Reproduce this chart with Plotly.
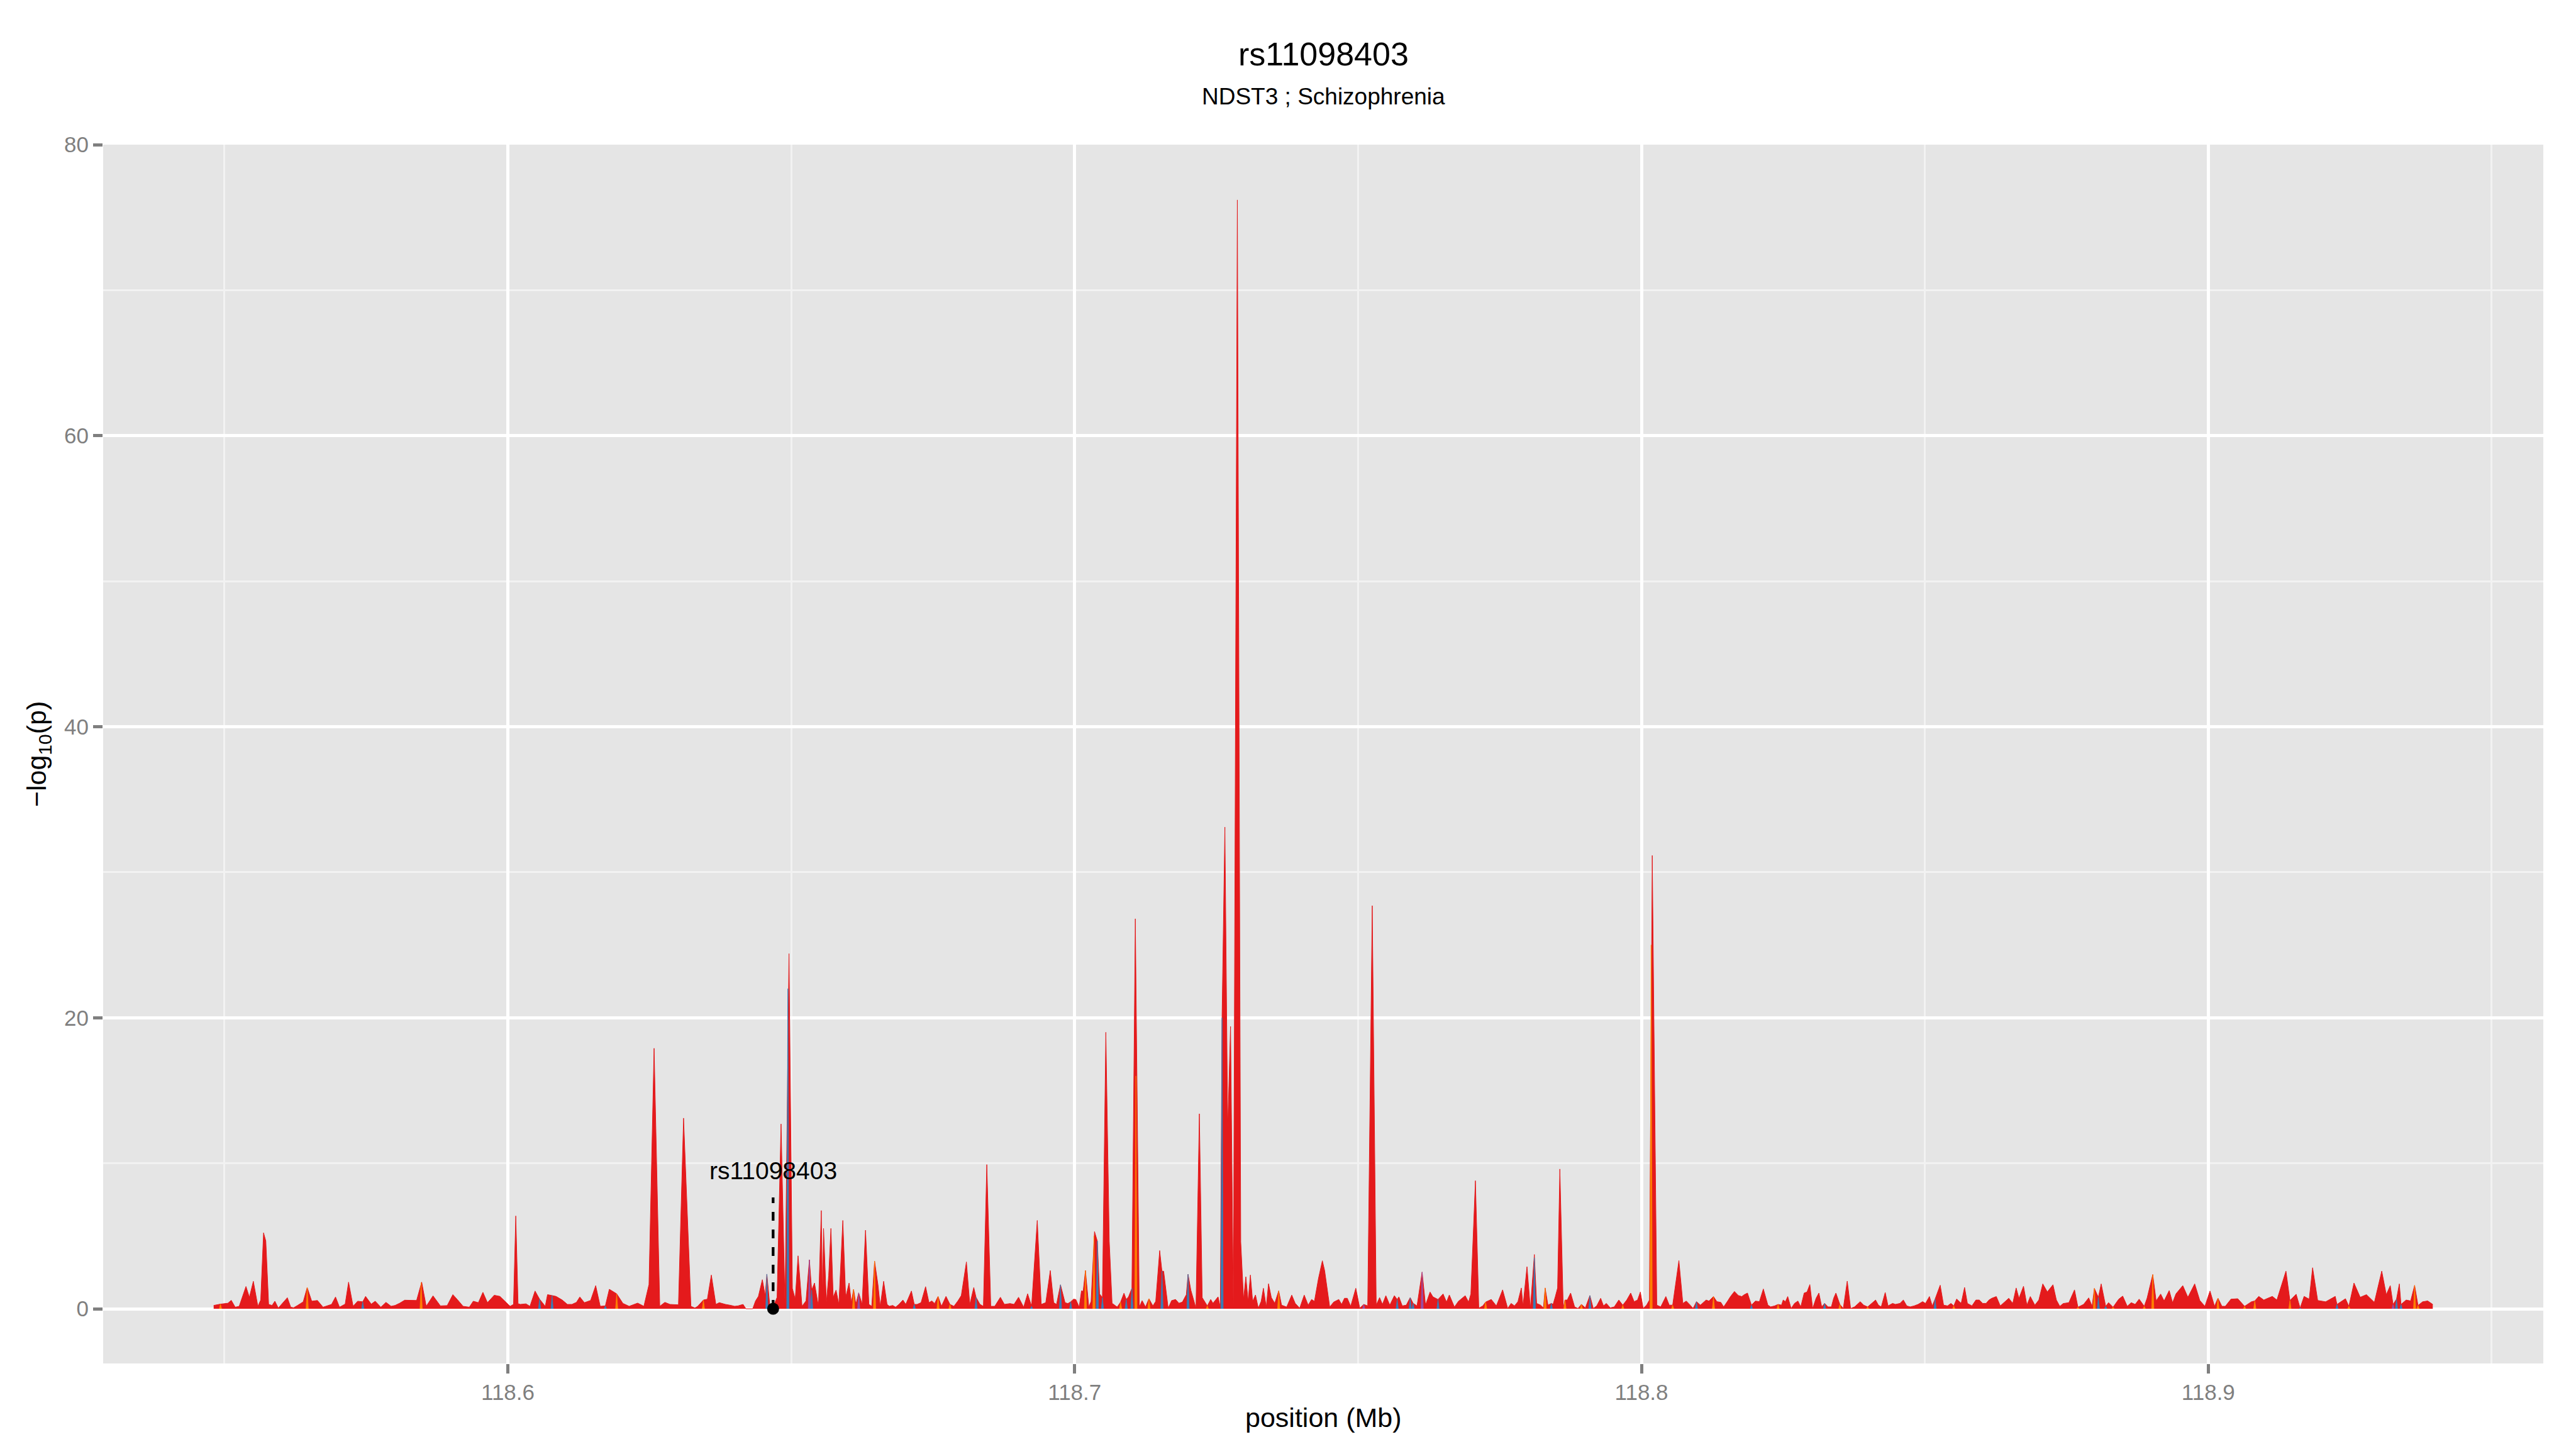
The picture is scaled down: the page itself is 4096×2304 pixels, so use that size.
import plotly.graph_objects as go

# ---------------- data (position in Mb, -log10 p) ----------------
title_text = "rs11098403"
subtitle_text = "NDST3 ; Schizophrenia"
lead_snp = "rs11098403"
lead_pos = 118.6468
lead_line_top = 7.65
lead_label_y = 9.48

x_ticks = [118.6, 118.7, 118.8, 118.9]
x_tick_labels = ["118.6", "118.7", "118.8", "118.9"]
x_minor = [118.55, 118.65, 118.75, 118.85, 118.95]
y_ticks = [0, 20, 40, 60, 80]
y_tick_labels = ["0", "20", "40", "60", "80"]
y_minor = [10, 30, 50, 70]

red_points = [
(118.5481,0.23),(118.5493,0.32),(118.5506,0.38),(118.5512,0.58),(118.5519,0.11),(118.5526,0.17),
(118.5538,1.53),(118.5544,0.79),(118.5551,1.89),(118.5559,0.17),(118.5564,0.6),(118.5569,5.22),(118.5573,4.66),(118.5578,0.30),
(118.5584,0.23),(118.5589,0.52),(118.5595,0.05),(118.5602,0.36),(118.5611,0.76),(118.5617,0.11),(118.5622,0.07),(118.5629,0.23),
(118.5639,0.48),(118.5646,1.46),(118.5654,0.52),(118.5664,0.57),(118.5674,0.11),(118.5689,0.30),(118.5696,0.81),(118.5703,0.11),
(118.5713,0.32),(118.5719,1.83),(118.5727,0.17),(118.5735,0.52),(118.5744,0.48),(118.5749,0.85),(118.5759,0.32),(118.5766,0.52),
(118.5776,0.11),(118.5785,0.44),(118.5794,0.17),(118.5801,0.23),(118.5809,0.38),(118.5818,0.59),(118.5830,0.57),(118.5839,0.57),
(118.5848,1.83),(118.5856,0.17),(118.5868,0.89),(118.5881,0.20),(118.5893,0.22),(118.5903,0.97),(118.5911,0.63),(118.5921,0.17),
(118.5932,0.11),(118.5939,0.52),(118.5948,0.42),(118.5956,1.13),(118.5964,0.42),(118.5976,0.93),(118.5986,0.85),(118.5995,0.52),
(118.6004,0.17),(118.6010,0.30),(118.6014,6.38),(118.6018,0.35),(118.6022,0.30),(118.6032,0.34),(118.6039,0.17),(118.6048,1.22),
(118.6056,0.66),(118.6066,0.17),(118.6070,0.97),(118.6078,0.91),(118.6085,0.85),(118.6096,0.60),(118.6105,0.30),(118.6113,0.30),
(118.6121,0.44),(118.6127,0.81),(118.6135,0.42),(118.6146,0.57),(118.6155,1.59),(118.6163,0.17),(118.6172,0.20),(118.6179,1.34),
(118.6192,1.03),(118.6203,0.37),(118.6214,0.17),(118.6229,0.39),(118.6240,0.17),(118.6249,1.67),(118.6258,17.9),(118.6268,0.17),
(118.6277,0.44),(118.6286,0.30),(118.6294,0.27),(118.6301,0.27),(118.6310,13.1),(118.6323,0.17),(118.6330,0.05),
(118.6335,0.17),(118.6345,0.60),(118.6352,0.66),(118.6359,2.32),(118.6367,0.30),(118.6373,0.42),(118.6384,0.30),(118.6394,0.23),
(118.6400,0.17),(118.6406,0.20),(118.6415,0.30),(118.6420,0.0),(118.6432,0.0),(118.6437,0.54),(118.6442,0.85),(118.6449,2.0),
(118.6454,0.91),(118.6457,2.38),(118.6462,0.30),(118.6468,0.10),(118.6475,0.79),(118.6482,12.7),(118.6489,0.17),(118.6496,24.4),
(118.6502,1.40),(118.6507,0.66),(118.6512,3.64),(118.6519,0.17),(118.6526,0.54),(118.6532,3.37),(118.6536,1.28),(118.6541,1.77),
(118.6548,0.17),(118.6553,6.75),(118.6555,0.79),(118.6557,5.52),(118.6562,0.42),(118.6566,2.26),(118.6570,5.52),(118.6574,0.79),
(118.6579,1.28),(118.6584,0.30),(118.6591,6.07),(118.6596,0.79),(118.6602,1.77),(118.6606,0.42),(118.6610,1.34),(118.6614,0.30),
(118.6619,1.09),(118.6625,0.30),(118.6631,5.40),(118.6637,0.30),(118.6642,0.17),(118.6647,3.27),(118.6653,1.65),(118.6657,0.17),
(118.6663,1.89),(118.6669,0.30),(118.6673,0.17),(118.6679,0.23),(118.6684,0.11),(118.6690,0.30),(118.6697,0.60),(118.6702,0.30),
(118.6712,1.22),(118.6717,0.30),(118.6722,0.30),(118.6729,0.42),(118.6737,1.52),(118.6743,0.42),(118.6748,0.54),(118.6753,0.36),
(118.6759,0.85),(118.6765,0.17),(118.6773,0.85),(118.6780,0.30),(118.6787,0.17),(118.6794,0.54),(118.6800,0.91),(118.6809,3.22),
(118.6815,0.30),(118.6822,1.46),(118.6826,0.79),(118.6833,0.30),(118.6839,0.17),(118.6845,9.91),(118.6852,0.17),(118.6859,0.17),
(118.6869,0.79),(118.6876,0.30),(118.6886,0.36),(118.6893,0.30),(118.6901,0.79),(118.6910,0.11),(118.6917,1.03),(118.6924,0.17),
(118.6934,6.07),(118.6941,0.30),(118.6949,0.42),(118.6957,2.63),(118.6963,0.42),(118.6968,0.30),(118.6975,1.65),(118.6983,0.42),
(118.6988,0.36),(118.6993,0.48),(118.6998,0.66),
(118.7002,0.64),(118.7008,0.12),(118.7012,1.23),(118.7015,1.20),(118.7019,2.63),(118.7025,0.12),(118.7029,0.51),(118.7035,5.30),
(118.7040,4.65),(118.7044,1.02),(118.7049,0.77),(118.7055,19.0),(118.7061,4.65),(118.7066,0.38),(118.7075,0.12),(118.7081,0.46),
(118.7087,1.07),(118.7091,0.64),(118.7095,0.82),(118.7101,1.41),(118.7107,26.8),(118.7114,0.12),(118.7119,0.56),(118.7125,0.12),
(118.7131,0.69),(118.7138,0.20),(118.7143,0.51),(118.7150,4.00),(118.7154,2.58),(118.7157,2.58),(118.7165,0.04),(118.7171,0.56),
(118.7178,0.64),(118.7184,0.38),(118.7190,0.46),(118.7197,0.97),(118.7200,2.37),(118.7205,1.28),(118.7214,0.04),(118.7220,13.4),
(118.7225,0.77),(118.7234,0.20),(118.7240,0.64),(118.7244,0.38),(118.7253,0.82),(118.7257,0.10),(118.7260,20.0),(118.7265,33.1),
(118.7270,12.4),(118.7275,19.4),(118.7280,0.04),(118.7287,76.2),(118.7293,4.6),(118.7298,0.64),(118.7302,2.20),(118.7306,0.51),
(118.7310,2.32),(118.7314,0.51),(118.7319,0.95),(118.7324,0.04),(118.7329,0.51),(118.7333,1.41),(118.7338,0.12),(118.7342,1.72),
(118.7347,0.77),(118.7353,0.38),(118.7360,1.23),(118.7365,0.25),(118.7374,0.12),(118.7383,0.94),(118.7389,0.38),(118.7397,0.04),
(118.7405,0.94),(118.7412,0.25),(118.7418,0.64),(118.7423,0.51),(118.7430,2.06),(118.7437,3.30),(118.7441,2.63),(118.7450,0.12),
(118.7457,0.46),(118.7466,0.64),(118.7471,0.30),(118.7476,0.72),(118.7481,0.72),(118.7487,0.17),(118.7496,1.41),(118.7503,0.04),
(118.7510,0.30),(118.7517,0.20),(118.7525,27.7),(118.7532,0.25),(118.7538,0.77),(118.7543,0.30),(118.7549,0.90),(118.7556,0.25),
(118.7564,0.90),(118.7569,0.64),(118.7572,0.82),(118.7578,0.20),(118.7585,0.25),(118.7592,0.77),(118.7597,0.38),(118.7604,0.20),
(118.7613,2.52),(118.7619,0.25),(118.7627,1.15),(118.7632,0.82),(118.7641,0.64),(118.7650,1.02),(118.7656,0.46),(118.7661,0.95),
(118.7670,0.12),(118.7677,0.51),(118.7689,0.90),(118.7695,0.46),(118.7699,1.02),(118.7707,8.80),(118.7713,0.04),(118.7720,0.20),
(118.7725,0.46),(118.7735,0.64),(118.7744,0.20),(118.7755,1.30),(118.7764,0.02),(118.7770,0.37),(118.7776,0.20),(118.7782,0.49),
(118.7788,1.43),(118.7791,0.20),(118.7798,2.89),(118.7804,0.02),(118.7811,3.73),(118.7815,0.37),(118.7822,0.25),(118.7827,0.06),
(118.7830,1.43),(118.7835,0.25),(118.7841,0.37),(118.7844,0.30),(118.7848,0.84),(118.7852,1.43),(118.7856,9.60),(118.7862,0.02),
(118.7865,0.60),(118.7869,0.60),(118.7875,1.08),(118.7882,0.13),(118.7888,0.02),(118.7894,0.30),(118.7901,0.06),(118.7909,0.91),
(118.7915,0.02),(118.7921,0.20),(118.7928,0.72),(118.7933,0.20),(118.7938,0.37),(118.7945,0.06),(118.7952,0.13),(118.7960,0.60),
(118.7967,0.25),(118.7974,0.60),(118.7981,1.08),(118.7987,0.49),(118.7993,0.60),(118.7998,1.15),(118.8003,0.02),(118.8009,0.25),
(118.8014,0.60),(118.8019,31.15),(118.8027,0.25),(118.8034,0.13),(118.8043,0.84),(118.8049,0.25),(118.8055,0.25),(118.8066,3.31),
(118.8073,0.37),(118.8079,0.53),(118.8086,0.25),(118.8091,0.02),(118.8097,0.49),(118.8104,0.25),(118.8114,0.60),(118.8119,0.53),
(118.8127,0.84),(118.8133,0.49),(118.8140,0.44),(118.8145,0.13),(118.8152,0.53),(118.8157,0.84),(118.8164,1.19),(118.8171,0.91),
(118.8177,0.84),(118.8181,0.96),(118.8187,1.08),(118.8194,0.25),(118.8201,0.53),(118.8208,0.49),(118.8215,1.36),(118.8223,0.25),
(118.8228,0.13),(118.8235,0.20),(118.8241,0.30),(118.8247,0.25),(118.8250,0.60),(118.8254,0.49),(118.8258,0.84),(118.8264,0.02),
(118.8270,0.37),(118.8276,0.53),(118.8281,0.13),(118.8287,1.08),(118.8292,1.15),(118.8297,1.66),(118.8302,0.02),(118.8308,0.72),
(118.8313,1.08),(118.8318,0.13),(118.8323,0.37),(118.8329,0.13),(118.8335,0.13),(118.8339,0.72),(118.8343,1.08),(118.8350,0.30),
(118.8356,0.02),(118.8363,1.90),(118.8369,0.02),(118.8376,0.13),(118.8386,0.49),(118.8392,0.25),(118.8399,0.13),(118.8406,0.37),
(118.8413,0.60),(118.8418,0.25),(118.8423,0.13),(118.8430,1.12),(118.8435,0.20),(118.8443,0.37),(118.8448,0.30),(118.8456,0.37),
(118.8462,0.60),(118.8468,0.20),(118.8474,0.13),(118.8481,0.20),(118.8488,0.30),(118.8496,0.49),(118.8501,0.37),(118.8508,0.84),
(118.8513,0.20),(118.8518,0.67),(118.8527,1.62),(118.8533,0.25),(118.8540,0.20),(118.8546,0.37),(118.8551,0.20),(118.8556,0.67),
(118.8564,0.37),(118.8570,1.47),(118.8575,0.37),(118.8583,0.20),(118.8590,0.60),(118.8596,0.60),(118.8602,0.37),(118.8608,0.37),
(118.8613,0.60),(118.8618,0.72),(118.8626,0.84),(118.8633,0.20),(118.8641,0.49),(118.8648,0.72),(118.8655,0.37),(118.8661,1.43),
(118.8666,0.72),(118.8674,1.55),(118.8680,0.25),(118.8686,0.84),(118.8694,0.25),(118.8701,0.60),
(118.8708,1.71),(118.8716,1.16),(118.8726,1.65),(118.8732,0.60),(118.8738,0.17),(118.8744,0.36),(118.8754,0.42),(118.8764,1.30),
(118.8770,0.11),(118.8780,0.30),(118.8789,0.75),(118.8795,0.17),(118.8799,1.40),(118.8806,0.79),(118.8811,1.71),(118.8819,0.17),
(118.8824,0.42),(118.8832,0.11),(118.8842,0.66),(118.8849,0.87),(118.8857,0.17),(118.8864,0.42),(118.8871,0.30),(118.8878,0.66),
(118.8887,0.17),(118.8892,0.73),(118.8902,2.35),(118.8908,0.54),(118.8916,1.01),(118.8922,0.54),(118.8931,1.25),(118.8937,0.42),
(118.8943,1.03),(118.8955,1.59),(118.8964,0.79),(118.8976,1.71),(118.8985,0.57),(118.8994,0.17),(118.9003,1.22),(118.9011,0.17),
(118.9017,0.73),(118.9024,0.17),(118.9030,0.17),(118.9040,0.66),(118.9052,0.69),(118.9064,0.17),(118.9076,0.48),(118.9082,0.54),
(118.9089,0.85),(118.9098,0.60),(118.9103,0.69),(118.9113,0.85),(118.9121,0.60),(118.9137,2.59),(118.9144,0.57),(118.9155,1.00),
(118.9162,0.05),(118.9169,0.85),(118.9178,0.66),(118.9184,2.82),(118.9193,0.57),(118.9207,0.48),(118.9224,0.85),(118.9227,0.30),
(118.9242,0.69),(118.9248,0.17),(118.9257,1.77),(118.9268,0.79),(118.9279,0.97),(118.9293,0.44),(118.9306,2.59),(118.9314,0.97),
(118.9321,1.59),(118.9326,0.30),(118.9332,0.66),(118.9337,1.71),(118.9340,0.30),(118.9349,0.60),(118.9357,0.54),(118.9364,1.61),
(118.9370,0.23),(118.9378,0.48),(118.9387,0.54),(118.9396,0.30),
]

orange_points = [
(118.5493,0.32),(118.5646,1.46),(118.5847,1.80),(118.6192,1.03),(118.6345,0.60),(118.6610,1.34),(118.6647,3.27),
(118.6759,0.85),(118.6780,0.30),(118.7019,2.63),(118.7034,5.00),(118.7081,0.46),(118.7108,16.0),(118.7131,0.69),
(118.7234,0.20),(118.7360,1.23),(118.7725,0.46),(118.7830,1.43),(118.7865,0.60),(118.7894,0.30),(118.7967,0.25),
(118.8017,25.0),(118.8055,0.25),(118.8127,0.84),(118.8241,0.30),(118.8350,0.30),(118.8399,0.13),(118.8551,0.20),
(118.8770,0.11),(118.8799,1.40),(118.8832,0.11),(118.8887,0.17),(118.8902,2.35),(118.9017,0.73),(118.9064,0.17),
(118.9082,0.54),(118.9144,0.57),(118.9248,0.17),(118.9364,1.61),(118.9370,0.23),
]

blue_points = [
(118.5744,0.48),(118.6056,0.66),(118.6078,0.91),(118.6172,0.20),(118.6457,2.38),(118.6494,22.0),(118.6536,1.28),
(118.6717,0.30),(118.6826,0.79),(118.6924,0.17),(118.6975,1.65),(118.6993,0.48),(118.7040,4.65),(118.7049,0.77),
(118.7091,0.64),(118.7101,1.41),(118.7154,2.58),(118.7200,2.37),(118.7260,20.0),(118.7569,0.64),(118.7592,0.77),
(118.7597,0.38),(118.7641,0.64),(118.7811,3.50),(118.7841,0.37),(118.7909,0.91),(118.8097,0.49),(118.8194,0.25),
(118.8323,0.37),(118.8518,0.67),(118.8806,0.79),(118.8819,0.17),(118.9162,0.05),(118.9227,0.30),(118.9332,0.66),
(118.9340,0.30),
]

purple_points = [
(118.6532,3.37),(118.6619,1.09),(118.7510,0.30),(118.7613,2.52),(118.9326,0.30),
]

# ---------------- styling ----------------
RED = "#E41A1C"
BLUE = "#377EB8"
PURPLE = "#984EA3"
ORANGE = "#FF7F00"
FONT = "Liberation Sans, Arial, Helvetica, sans-serif"
SPIKE_HALF_WIDTH = 0.0002  # Mb, glyph width of the thin coloured spikes

fig = go.Figure()

fig.add_trace(go.Scatter(
    x=[p for p, v in red_points], y=[v for p, v in red_points],
    mode="lines", fill="tozeroy", fillcolor=RED,
    line=dict(color=RED, width=1), hoverinfo="skip", showlegend=False,
))


def spike_trace(points, color):
    xs, ys = [], []
    for p, v in points:
        xs += [p - SPIKE_HALF_WIDTH, p, p + SPIKE_HALF_WIDTH, None]
        ys += [0, v, 0, None]
    return go.Scatter(x=xs, y=ys, mode="lines", fill="toself", fillcolor=color,
                      line=dict(color=color, width=0.8), hoverinfo="skip",
                      showlegend=False)


fig.add_trace(spike_trace(purple_points, PURPLE))
fig.add_trace(spike_trace(blue_points, BLUE))
fig.add_trace(spike_trace(orange_points, ORANGE))

# lead SNP marker: dashed line + dot
fig.add_trace(go.Scatter(
    x=[lead_pos, lead_pos], y=[0, lead_line_top], mode="lines",
    line=dict(color="black", width=4.3, dash="14px,14px"),
    hoverinfo="skip", showlegend=False,
))
fig.add_trace(go.Scatter(
    x=[lead_pos], y=[0], mode="markers",
    marker=dict(color="black", size=19), hoverinfo="skip", showlegend=False,
))

annotations = [
    dict(x=lead_pos, y=lead_label_y, xref="x", yref="y", text=lead_snp,
         showarrow=False, font=dict(family=FONT, size=39, color="black"),
         xanchor="center", yanchor="middle"),
    dict(x=0.5, y=1.0745, xref="paper", yref="paper", text=title_text,
         showarrow=False, font=dict(family=FONT, size=52, color="black"),
         xanchor="center", yanchor="middle"),
    dict(x=0.5, y=1.0394, xref="paper", yref="paper", text=subtitle_text,
         showarrow=False, font=dict(family=FONT, size=37, color="black"),
         xanchor="center", yanchor="middle"),
    dict(x=0.5, y=-0.0444, xref="paper", yref="paper", text="position (Mb)",
         showarrow=False, font=dict(family=FONT, size=43, color="black"),
         xanchor="center", yanchor="middle"),
    dict(x=-0.0265, y=0.5, xref="paper", yref="paper",
         text="\u2212log<sub>10</sub>(p)", textangle=-90,
         showarrow=False, font=dict(family=FONT, size=43, color="black"),
         xanchor="center", yanchor="middle"),
]

axis_common = dict(
    showgrid=True, gridcolor="white", gridwidth=5,
    zeroline=False, showline=False,
    ticks="outside", ticklen=15, tickwidth=4.5, tickcolor="#7F7F7F",
    tickfont=dict(family=FONT, size=35, color="#7F7F7F"),
)

# the page body adds an 8px offset; margins compensate so the panel lands
# where the reference panel is in the window
fig.update_layout(
    width=4096, height=2304,
    margin=dict(l=156, r=60, t=222, b=144),
    paper_bgcolor="white", plot_bgcolor="#E5E5E5",
    font=dict(family=FONT),
    annotations=annotations,
    xaxis=dict(range=[118.5286, 118.9591], tickmode="array",
               tickvals=x_ticks, ticktext=x_tick_labels,
               minor=dict(tickvals=x_minor, showgrid=True, gridcolor="#F2F2F2",
                          gridwidth=2.5, ticks=""),
               **axis_common),
    yaxis=dict(range=[-3.76, 80], tickmode="array",
               tickvals=y_ticks, ticktext=y_tick_labels,
               minor=dict(tickvals=y_minor, showgrid=True, gridcolor="#F2F2F2",
                          gridwidth=2.5, ticks=""),
               **axis_common),
)

fig.write_html("out.html")
